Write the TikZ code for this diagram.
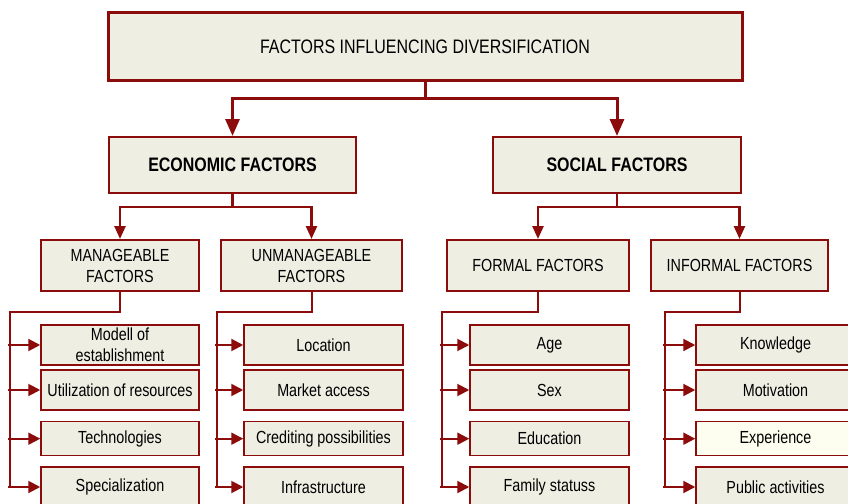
\documentclass[tikz,border=0pt]{standalone}
\usepackage{fontspec}
\setmainfont[FakeStretch=0.82]{Liberation Sans}
\usetikzlibrary{arrows.meta}
\definecolor{bord}{RGB}{140,12,12}
\definecolor{boxfill}{RGB}{238,238,227}
\definecolor{lightfill}{RGB}{254,254,240}
\tikzset{
  basebox/.style={draw=bord, fill=boxfill, inner sep=0pt, align=center, text=black},
  topbox/.style={basebox, line width=3pt, font=\fontsize{19.5}{23}\selectfont},
  lvlone/.style={basebox, line width=2pt, font=\bfseries\fontsize{19.5}{23}\selectfont},
  lvltwo/.style={basebox, line width=2pt, font=\fontsize{17.5}{21}\selectfont},
  leafbox/.style={basebox, line width=1.5pt, font=\fontsize{17.5}{21}\selectfont},
  conA/.style={draw=bord, line width=3pt, -{Triangle[length=17pt,width=14pt]}},
  conB/.style={draw=bord, line width=2.5pt, -{Triangle[length=13pt,width=11pt]}},
  conC/.style={draw=bord, line width=2pt},
  conD/.style={draw=bord, line width=2pt, -{Triangle[length=12pt,width=12pt]}},
}
\begin{document}
\begin{tikzpicture}[x=1pt,y=-1pt]
\useasboundingbox (0,0) rectangle (848,503);
\clip (0,0) rectangle (848,503);
\fill[white] (0,0) rectangle (848,503);

% top
\node[topbox, minimum width=634pt, minimum height=67pt] (top) at (425,46.5) {FACTORS INFLUENCING DIVERSIFICATION};
% level one
\node[lvlone, minimum width=247pt, minimum height=56pt] (econ) at (232.5,165) {ECONOMIC FACTORS};
\node[lvlone, minimum width=248pt, minimum height=56pt] (soc) at (617,165) {SOCIAL FACTORS};
% level two
\node[lvltwo, minimum width=158pt, minimum height=51pt] (man) at (120,265.5) {MANAGEABLE\\FACTORS};
\node[lvltwo, minimum width=181pt, minimum height=51pt] (unm) at (311.5,265.5) {UNMANAGEABLE\\FACTORS};
\node[lvltwo, minimum width=182pt, minimum height=51pt] (for) at (538,265.5) {FORMAL FACTORS};
\node[lvltwo, minimum width=177pt, minimum height=51pt] (inf) at (739.5,265.5) {INFORMAL FACTORS};

% leaves
\foreach \col/\cx/\w in {a/120/158, b/323.5/159, c/549.5/159, d/775.5/159}{
}
\node[leafbox, minimum width=158pt, minimum height=40pt] (a1) at (120,345) {Modell of\\establishment};
\node[leafbox, minimum width=158pt, minimum height=40pt] (a2) at (120,390) {Utilization of resources};
\node[leafbox, minimum width=158pt, minimum height=34pt] (a3) at (120,438.7) {Technologies};
\node[leafbox, minimum width=158pt, minimum height=40pt] (a4) at (120,487) {Specialization};

\node[leafbox, minimum width=159pt, minimum height=40pt] (b1) at (323.5,345) {Location};
\node[leafbox, minimum width=159pt, minimum height=40pt] (b2) at (323.5,390) {Market access};
\node[leafbox, minimum width=159pt, minimum height=34pt] (b3) at (323.5,438.7) {Crediting possibilities};
\node[leafbox, minimum width=159pt, minimum height=40pt] (b4) at (323.5,487) {Infrastructure};

\node[leafbox, minimum width=159pt, minimum height=40pt] (c1) at (549.5,345) {Age};
\node[leafbox, minimum width=159pt, minimum height=40pt] (c2) at (549.5,390) {Sex};
\node[leafbox, minimum width=159pt, minimum height=34pt] (c3) at (549.5,438.7) {Education};
\node[leafbox, minimum width=159pt, minimum height=40pt] (c4) at (549.5,487) {Family statuss};

\node[leafbox, minimum width=159pt, minimum height=40pt] (d1) at (775.5,345) {Knowledge};
\node[leafbox, minimum width=159pt, minimum height=40pt] (d2) at (775.5,390) {Motivation};
\node[leafbox, fill=lightfill, minimum width=159pt, minimum height=34pt] (d3) at (775.5,438.7) {Experience};
\node[leafbox, minimum width=159pt, minimum height=40pt] (d4) at (775.5,487) {Public activities};

% top connectors
\coordinate (tj) at (425,98.5);
\draw[conC, line width=3pt] (top.south) -- (tj);
\draw[conA] (tj) -| (econ.north);
\draw[conA] (tj) -| (soc.north);

% level one connectors
\coordinate (ej) at (232.5,207);
\coordinate (sj) at (617,207);
\draw[conC, line width=2.5pt] (econ.south) -- (ej);
\draw[conB] (ej) -| (man.north);
\draw[conB] (ej) -| (unm.north);
\draw[conC, line width=2.5pt] (soc.south) -- (sj);
\draw[conB] (sj) -| (for.north);
\draw[conB] (sj) -| (inf.north);

% level two connectors to leaves
\foreach \p/\l/\vx in {man/a/10, unm/b/217, for/c/442, inf/d/665}{
  \coordinate (\l j) at (\p.south |- 0,312);
  \coordinate (\l v) at (\vx,312);
  \draw[conC] (\p.south) -- (\l j) -- (\l v) -- (\vx,487);
  \foreach \i in {1,2,3,4}{
    \draw[conD] (\vx-2,0 |- \l\i.west) -- (\l\i.west);
  }
}
\end{tikzpicture}
\end{document}
